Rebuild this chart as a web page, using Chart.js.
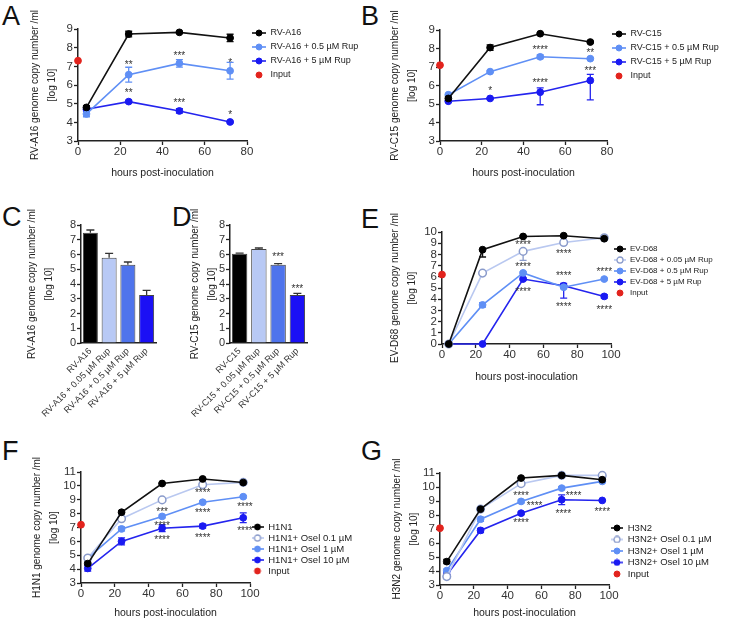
<!DOCTYPE html>
<html>
<head>
<meta charset="utf-8">
<script src="https://cdn.jsdelivr.net/npm/chart.js@4.4.1/dist/chart.umd.min.js"></script>
<style>
  body { margin: 0; background: #fff; width: 733px; height: 622px; position: relative; overflow: hidden;
         font-family: "Liberation Sans", Arial, sans-serif; }
  canvas { position: absolute; }
  .tag { position: absolute; font-size: 27px; line-height: 1; color: #111; }
</style>
</head>
<body>
<div class="tag" style="left:2px;top:3px">A</div>
<div class="tag" style="left:361px;top:3px">B</div>
<div class="tag" style="left:2px;top:204px">C</div>
<div class="tag" style="left:172px;top:204px">D</div>
<div class="tag" style="left:361px;top:206px">E</div>
<div class="tag" style="left:2px;top:438px">F</div>
<div class="tag" style="left:361px;top:438px">G</div>

<canvas id="chartA" width="368" height="181" style="left:0;top:0"></canvas>
<canvas id="chartB" width="363" height="181" style="left:370px;top:0"></canvas>
<canvas id="chartC" width="160" height="230" style="left:0;top:195px"></canvas>
<canvas id="chartD" width="150" height="230" style="left:160px;top:195px"></canvas>
<canvas id="chartE" width="363" height="185" style="left:370px;top:200px"></canvas>
<canvas id="chartF" width="368" height="181" style="left:0;top:440px"></canvas>
<canvas id="chartG" width="363" height="181" style="left:370px;top:440px"></canvas>

<script>
'use strict';

const FONT = '"Liberation Sans", Arial, sans-serif';
Chart.defaults.font.family = FONT;
Chart.defaults.color = '#222';

// A: RV-A16 time course
const hoursRV = [4, 24, 48, 72];
const a16Virus = [4.8, 8.73, 8.82, 8.52];
const a16VirusErr = [0.1, 0.15, 0.05, 0.2];
const a16Rup05 = [4.45, 6.55, 7.16, 6.76];
const a16Rup05Err = [0.15, 0.4, 0.2, 0.45];
const a16Rup5 = [4.7, 5.11, 4.61, 4.02];
const a16Rup5Err = [0.1, 0.06, 0.12, 0.05];
const a16Input = 7.3;
const a16Stars = [[24, 7.21, '**'], [48, 7.7, '***'], [72, 7.34, '*'],
                  [24, 5.69, '**'], [48, 5.19, '***'], [72, 4.52, '*']];

// B: RV-C15 time course
const c15Virus = [5.3, 8.05, 8.8, 8.35];
const c15VirusErr = [0.1, 0.15, 0.05, 0.05];
const c15Rup05 = [5.5, 6.75, 7.55, 7.45];
const c15Rup05Err = [0.05, 0.05, 0.1, 0.05];
const c15Rup5 = [5.15, 5.3, 5.64, 6.27];
const c15Rup5Err = [0.05, 0.05, [0.68, 0.23], [1.05, 0.33]];
const c15Input = 7.1;
const c15Stars = [[48, 8.04, '****'], [72, 7.9, '**'],
                  [24, 5.87, '*'], [48, 6.27, '****'], [72, 6.9, '***']];

// C, D: bar panels
const a16BarLabels = ['RV-A16', 'RV-A16 + 0.05 µM Rup', 'RV-A16 + 0.5 µM Rup', 'RV-A16 + 5 µM Rup'];
const a16BarValues = [7.47, 5.78, 5.3, 3.25];
const a16BarErr = [0.19, 0.29, 0.19, 0.32];
const c15BarLabels = ['RV-C15', 'RV-C15 + 0.05 µM Rup', 'RV-C15 + 0.5 µM Rup', 'RV-C15 + 5 µM Rup'];
const c15BarValues = [6.05, 6.38, 5.3, 3.25];
const c15BarErr = [0.05, 0.06, 0.08, 0.12];
const c15BarStars = [[2, 6.0, '***'], [3, 3.85, '***']];

// E: EV-D68 time course
const hoursLong = [4, 24, 48, 72, 96];
const d68Virus = [0, 8.42, 9.6, 9.67, 9.4];
const d68VirusErr = [0, [0.65, 0.1], 0.08, 0.08, 0.08];
const d68Rup005 = [0, 6.33, 8.27, 9.07, 9.48];
const d68Rup005Err = [0, 0.1, [0.8, 0.1], 0.1, 0.08];
const d68Rup05 = [0, 3.49, 6.35, 5.07, 5.8];
const d68Rup05Err = [0, 0.2, 0.1, 0.12, 0.08];
const d68Rup5 = [0, 0, 5.8, 5.2, 4.25];
const d68Rup5Err = [0, 0, 0.1, [1.1, 0.2], 0.15];
const d68Input = 6.2;
const d68Stars = [[48, 9.07, '****'], [72, 8.27, '****'], [48, 7.1, '****'], [72, 6.27, '****'],
                  [96, 6.7, '****'], [48, 4.85, '****'], [72, 3.55, '****'], [96, 3.25, '****']];

// F: H1N1 time course
const h1n1Virus = [4.4, 8.1, 10.17, 10.5, 10.24];
const h1n1VirusErr = [0.1, 0.1, 0.05, 0.05, 0.05];
const h1n1Osel01 = [4.8, 7.63, 8.99, 10.08, 10.25];
const h1n1Osel01Err = [0.1, 0.1, 0.05, 0.05, 0.05];
const h1n1Osel1 = [4.8, 6.9, 7.8, 8.82, 9.22];
const h1n1Osel1Err = [0.12, 0.15, 0.1, 0.1, 0.08];
const h1n1Osel10 = [4.05, 6.0, 6.95, 7.1, 7.7];
const h1n1Osel10Err = [0.2, 0.25, 0.25, 0.15, 0.35];
const h1n1Input = 7.2;
const h1n1Stars = [[48, 8.34, '***'], [48, 7.32, '****'], [48, 6.28, '****'], [72, 9.65, '****'],
                   [72, 8.22, '****'], [72, 6.44, '****'], [97, 8.7, '****'], [97, 6.92, '****']];

// G: H3N2 time course
const h3n2Virus = [4.67, 8.42, 10.64, 10.83, 10.52];
const h3n2VirusErr = [0.15, 0.1, 0.05, 0.05, 0.05];
const h3n2Osel01 = [3.6, 8.42, 10.24, 10.83, 10.83];
const h3n2Osel01Err = [0.15, 0.1, 0.1, 0.05, 0.05];
const h3n2Osel1 = [4.03, 7.7, 8.97, 9.92, 10.4];
const h3n2Osel1Err = [0.1, 0.15, 0.1, 0.1, 0.08];
const h3n2Osel10 = [3.72, 6.9, 8.13, 9.09, 9.04];
const h3n2Osel10Err = [0.2, 0.15, 0.1, 0.35, 0.05];
const h3n2Input = 7.06;
const h3n2Stars = [[48, 9.56, '****'], [56, 8.85, '****'], [48, 7.62, '****'],
                   [79, 9.56, '****'], [73, 8.25, '****'], [96, 8.42, '****']];

// styles
const BLACK = { line: '#111', fill: '#000', edge: '#000' };
const OPEN = { line: '#b9c8f0', fill: '#fff', edge: '#8a9bcb', open: true };
const MID = { line: '#5f8ff5', fill: '#5f8ff5', edge: '#5f8ff5' };
const DEEP = { line: '#2424ee', fill: '#1a1af2', edge: '#1a1af2' };
const RED = '#e2231d';
const BAR_COLORS = ['#000000', '#b8c9f5', '#4f74ec', '#1b10f5'];

function makeIcon(style, w, withLine) {
  const c = document.createElement('canvas');
  c.width = w; c.height = 8;
  const g = c.getContext('2d');
  if (withLine) {
    g.strokeStyle = style.line; g.lineWidth = 1.6;
    g.beginPath(); g.moveTo(0, 4); g.lineTo(w, 4); g.stroke();
  }
  g.beginPath(); g.arc(w / 2, 4, 3, 0, Math.PI * 2);
  g.fillStyle = style.fill; g.fill();
  g.strokeStyle = style.edge; g.lineWidth = style.open ? 1.3 : 1; g.stroke();
  return c;
}

function series(label, hours, ys, errs, style, iconW) {
  return {
    label,
    data: hours.map((h, i) => ({ x: h, y: ys[i] })),
    errors: errs,
    errorColor: style.open ? style.edge : style.line,
    borderColor: style.line,
    backgroundColor: style.fill,
    pointBackgroundColor: style.fill,
    pointBorderColor: style.edge,
    pointBorderWidth: style.open ? 1.5 : 1,
    pointRadius: style.open ? 3.8 : 3.4,
    borderWidth: 1.6,
    clip: false,
    icon: makeIcon(style, iconW, true)
  };
}

function inputPoint(value, iconW) {
  const s = { fill: RED, edge: RED };
  return {
    label: 'Input', data: [{ x: 0, y: value }], showLine: false,
    pointBackgroundColor: RED, pointBorderColor: RED, pointRadius: 3.4,
    clip: false, icon: makeIcon(s, iconW, false)
  };
}

const errorBars = {
  id: 'errorBars',
  beforeDatasetsDraw(chart) { drawErrors(chart, false); },
  afterDatasetsDraw(chart) { drawErrors(chart, true); }
};

function drawErrors(chart, barMode) {
  const ctx = chart.ctx;
  const yScale = chart.scales.y;
  chart.data.datasets.forEach((ds, i) => {
    if (!ds.errors || !!ds.upOnly !== barMode) return;
    const meta = chart.getDatasetMeta(i);
    ctx.save();
    ctx.strokeStyle = ds.errorColor;
    ctx.lineWidth = 1.3;
    meta.data.forEach((el, j) => {
      const e = ds.errors[j];
      if (!e) return;
      const [lo, hi] = Array.isArray(e) ? e : [e, e];
      const raw = ds.data[j];
      const v = typeof raw === 'object' ? raw.y : raw;
      const top = yScale.getPixelForValue(v + hi);
      const bot = ds.upOnly ? el.y : yScale.getPixelForValue(v - lo);
      const cap = ds.upOnly ? 4 : 3.5;
      ctx.beginPath();
      ctx.moveTo(el.x, top); ctx.lineTo(el.x, bot);
      ctx.moveTo(el.x - cap, top); ctx.lineTo(el.x + cap, top);
      if (!ds.upOnly) { ctx.moveTo(el.x - cap, bot); ctx.lineTo(el.x + cap, bot); }
      ctx.stroke();
    });
    ctx.restore();
  });
}

function starPlugin(marks) {
  return {
    id: 'stars',
    afterDatasetsDraw(chart) {
      const ctx = chart.ctx;
      ctx.save();
      ctx.fillStyle = '#333';
      ctx.font = '10px ' + FONT;
      ctx.textAlign = 'center';
      ctx.textBaseline = 'alphabetic';
      marks.forEach(([x, y, t]) => {
        const px = chart.scales.x.getPixelForValue(x);
        const py = chart.scales.y.getPixelForValue(y);
        ctx.fillText(t, px, py + 5.6);
      });
      ctx.restore();
    }
  };
}

// fix the legend box to an exact width so the plot's right edge is predictable
function legendWidth(w) {
  return {
    id: 'legendWidth',
    afterInit(chart) {
      const lg = chart.legend;
      if (!lg) return;
      const fit = lg.fit;
      lg.fit = function () { fit.call(this); this.width = w; };
    }
  };
}

function axisBase() {
  return {
    grid: { drawOnChartArea: false, tickLength: 4, tickWidth: 1.3, tickColor: '#222' },
    border: { color: '#222', width: 1.5 }
  };
}

function lineChart(id, L, datasets, xMax, yMin, yMax, yTitle, marks) {
  const xAxis = axisBase();
  Object.assign(xAxis, {
    type: 'linear', min: 0, max: xMax,
    afterFit: s => { s.height = L.xh; },
    ticks: { stepSize: 20, autoSkip: false, maxRotation: 0, color: '#333', padding: 0, font: { size: 11.5 } },
    title: { display: true, text: 'hours post-inoculation', color: '#222',
             font: { size: 10.5 }, padding: { top: 0, bottom: 2 } }
  });
  const yAxis = axisBase();
  Object.assign(yAxis, {
    min: yMin, max: yMax,
    afterFit: s => { s.width = L.yw; },
    ticks: { stepSize: 1, autoSkip: false, color: '#333', padding: 1, font: { size: 11.5 } },
    title: { display: true, text: [yTitle, '[log 10]'], color: '#222',
             font: { size: 10, lineHeight: 1.75 }, padding: { top: L.titlePad, bottom: 0 } }
  });
  return new Chart(document.getElementById(id), {
    type: 'line',
    data: { datasets },
    options: {
      responsive: false, animation: false, events: [],
      layout: { padding: { top: L.pt, right: 0, bottom: 0, left: 0 } },
      scales: { x: xAxis, y: yAxis },
      plugins: {
        tooltip: { enabled: false },
        legend: {
          position: 'right', align: 'start',
          title: { display: true, text: '', font: { size: 1 }, padding: { top: L.legendOffset, bottom: 0 } },
          labels: {
            usePointStyle: true, pointStyleWidth: L.iconW, padding: L.legendPad,
            color: '#222', font: { size: L.legendFont },
            generateLabels: chart => chart.data.datasets.map((ds, i) => ({
              text: ds.label, pointStyle: ds.icon, fillStyle: '#000', strokeStyle: '#000',
              lineWidth: 0, hidden: false, datasetIndex: i, fontColor: '#222'
            }))
          }
        }
      }
    },
    plugins: [errorBars, starPlugin(marks), legendWidth(L.legendW)]
  });
}

function barChart(id, L, labels, values, errs, yTitle, marks) {
  const xAxis = {
    afterFit: s => { s.height = L.xh; },
    grid: { display: false, drawTicks: false },
    border: { color: '#222', width: 1.5 },
    ticks: { autoSkip: false, minRotation: 45, maxRotation: 45, color: '#333', padding: 3, font: { size: 9 } }
  };
  const yAxis = axisBase();
  Object.assign(yAxis, {
    min: 0, max: 8,
    afterFit: s => { s.width = L.yw; },
    ticks: { stepSize: 1, autoSkip: false, color: '#333', padding: 1, font: { size: 11 } },
    title: { display: true, text: [yTitle, '[log 10]'], color: '#222',
             font: { size: 10, lineHeight: 1.75 }, padding: { top: L.titlePad, bottom: 0 } }
  });
  return new Chart(document.getElementById(id), {
    type: 'bar',
    data: {
      labels,
      datasets: [{
        data: values, errors: errs, upOnly: true, errorColor: '#333',
        backgroundColor: BAR_COLORS, borderColor: '#444', borderWidth: 1,
        barPercentage: 0.8, categoryPercentage: 1
      }]
    },
    options: {
      responsive: false, animation: false, events: [],
      layout: { padding: { top: L.pt, right: L.pr, bottom: 0, left: 0 } },
      scales: { x: xAxis, y: yAxis },
      plugins: { legend: { display: false }, tooltip: { enabled: false } }
    },
    plugins: [errorBars, starPlugin(marks)]
  });
}

// A
lineChart('chartA',
  { yw: 78, xh: 40, pt: 29, legendW: 121, titlePad: 26,
    legendFont: 9, legendPad: 5, iconW: 14, legendOffset: -6.7 },
  [
    series('RV-A16', hoursRV, a16Virus, a16VirusErr, BLACK, 14),
    series('RV-A16 + 0.5 µM Rup', hoursRV, a16Rup05, a16Rup05Err, MID, 14),
    series('RV-A16 + 5 µM Rup', hoursRV, a16Rup5, a16Rup5Err, DEEP, 14),
    inputPoint(a16Input, 14)
  ], 80, 3, 9, 'RV-A16 genome copy number /ml', a16Stars);

// B
lineChart('chartB',
  { yw: 70, xh: 40, pt: 30, legendW: 126, titlePad: 16.25,
    legendFont: 9, legendPad: 5, iconW: 14, legendOffset: -6.7 },
  [
    series('RV-C15', hoursRV, c15Virus, c15VirusErr, BLACK, 14),
    series('RV-C15 + 0.5 µM Rup', hoursRV, c15Rup05, c15Rup05Err, MID, 14),
    series('RV-C15 + 5 µM Rup', hoursRV, c15Rup5, c15Rup5Err, DEEP, 14),
    inputPoint(c15Input, 14)
  ], 80, 3, 9, 'RV-C15 genome copy number /ml', c15Stars);

// C
barChart('chartC', { yw: 81, xh: 82, pt: 30, pr: 4, titlePad: 23.25 },
  a16BarLabels, a16BarValues, a16BarErr, 'RV-A16 genome copy number /ml', []);

// D
barChart('chartD', { yw: 70, xh: 82, pt: 30, pr: 3, titlePad: 26.25 },
  c15BarLabels, c15BarValues, c15BarErr, 'RV-C15 genome copy number /ml', c15BarStars);

// E
lineChart('chartE',
  { yw: 72, xh: 41, pt: 32, legendW: 122, titlePad: 16.25,
    legendFont: 8, legendPad: 3, iconW: 12, legendOffset: 8.8 },
  [
    series('EV-D68', hoursLong, d68Virus, d68VirusErr, BLACK, 12),
    series('EV-D68 + 0.05 µM Rup', hoursLong, d68Rup005, d68Rup005Err, OPEN, 12),
    series('EV-D68 + 0.5 µM Rup', hoursLong, d68Rup05, d68Rup05Err, MID, 12),
    series('EV-D68 + 5 µM Rup', hoursLong, d68Rup5, d68Rup5Err, DEEP, 12),
    inputPoint(d68Input, 12)
  ], 100, 0, 10, 'EV-D68 genome copy number /ml', d68Stars);

// F
lineChart('chartF',
  { yw: 81, xh: 38, pt: 32, legendW: 118, titlePad: 28.25,
    legendFont: 9.5, legendPad: 1.5, iconW: 12, legendOffset: 47.5 },
  [
    series('H1N1', hoursLong, h1n1Virus, h1n1VirusErr, BLACK, 12),
    series('H1N1+ Osel 0.1 µM', hoursLong, h1n1Osel01, h1n1Osel01Err, OPEN, 12),
    series('H1N1+ Osel 1 µM', hoursLong, h1n1Osel1, h1n1Osel1Err, MID, 12),
    series('H1N1+ Osel 10 µM', hoursLong, h1n1Osel10, h1n1Osel10Err, DEEP, 12),
    inputPoint(h1n1Input, 12)
  ], 100, 3, 11, 'H1N1 genome copy number /ml', h1n1Stars);

// G
lineChart('chartG',
  { yw: 70, xh: 36, pt: 33, legendW: 124, titlePad: 18.25,
    legendFont: 9.5, legendPad: 2, iconW: 12, legendOffset: 47 },
  [
    series('H3N2', hoursLong, h3n2Virus, h3n2VirusErr, BLACK, 12),
    series('H3N2+ Osel 0.1 µM', hoursLong, h3n2Osel01, h3n2Osel01Err, OPEN, 12),
    series('H3N2+ Osel 1 µM', hoursLong, h3n2Osel1, h3n2Osel1Err, MID, 12),
    series('H3N2+ Osel 10 µM', hoursLong, h3n2Osel10, h3n2Osel10Err, DEEP, 12),
    inputPoint(h3n2Input, 12)
  ], 100, 3, 11, 'H3N2 genome copy number /ml', h3n2Stars);
</script>
</body>
</html>
